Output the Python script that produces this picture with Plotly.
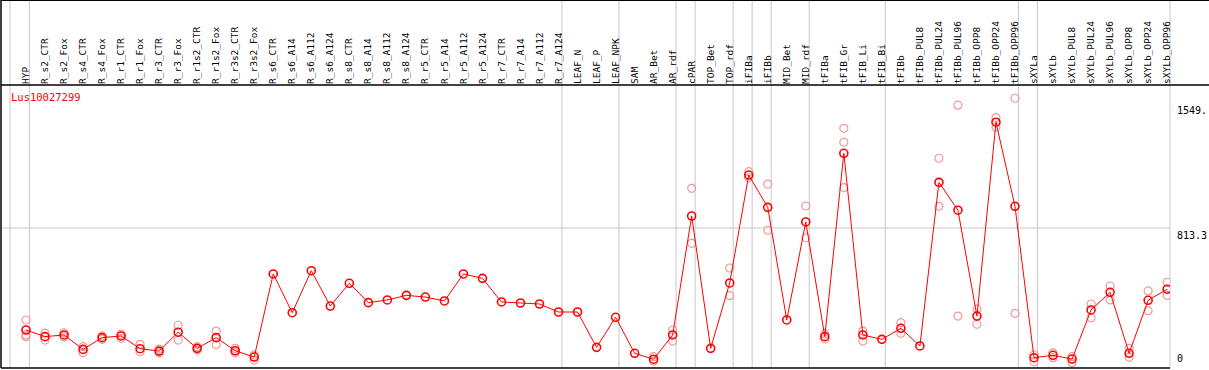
import plotly.graph_objects as go

categories = ["HYP", "R_s2_CTR", "R_s2_Fox", "R_s4_CTR", "R_s4_Fox", "R_r1_CTR", "R_r1_Fox",
              "R_r3_CTR", "R_r3_Fox", "R_r1s2_CTR", "R_r1s2_Fox", "R_r3s2_CTR", "R_r3s2_Fox",
              "R_s6_CTR", "R_s6_A14", "R_s6_A112", "R_s6_A124", "R_s8_CTR", "R_s8_A14",
              "R_s8_A112", "R_s8_A124", "R_r5_CTR", "R_r5_A14", "R_r5_A112", "R_r5_A124",
              "R_r7_CTR", "R_r7_A14", "R_r7_A112", "R_r7_A124", "LEAF_N", "LEAF_P", "LEAF_NPK",
              "SAM", "AR_Bet", "AR_rdf", "cPAR", "TOP_Bet", "TOP_rdf", "iFIBa", "iFIBb",
              "MID_Bet", "MID_rdf", "tFIBa", "tFIB_Gr", "tFIB_Li", "tFIB_Bi", "tFIBb",
              "tFIBb_PUL8", "tFIBb_PUL24", "tFIBb_PUL96", "tFIBb_OPP8", "tFIBb_OPP24",
              "tFIBb_OPP96", "sXYLa", "sXYLb", "sXYLb_PUL8", "sXYLb_PUL24", "sXYLb_PUL96",
              "sXYLb_OPP8", "sXYLb_OPP24", "sXYLb_OPP96"]

mean_values = [213, 174, 184, 99, 168, 178, 103, 89, 200, 105, 168, 91, 54,
               543, 315, 562, 354, 488, 374, 390, 417, 407, 384, 543, 517,
               378, 372, 366, 319, 319, 111, 288, 76, 41, 184, 884, 105, 490,
               1125, 935, 272, 849, 174, 1253, 184, 158, 223, 119, 1082, 918,
               295, 1436, 941, 50, 64, 42, 331, 435, 76, 388, 453]

rep_a = [272, 195, 197, 115, 178, 188, 129, 101, 241, 115, 207, 105, 66,
         None, None, None, None, None, None, None, None, None, None, None, None,
         None, None, None, None, None, None, None, None, 56, 213, 1047, None, 578,
         1145, 1072, None, 943, 190, 1400, 207, None, 256, None, 1224, 1536,
         337, 1463, 1577, 66, 79, 56, 366, 472, 105, 443, 494]
rep_b = [184, 154, 172, 79, 158, 164, 85, 79, 154, 95, 127, 79, 36,
         None, None, None, None, None, None, None, None, None, None, None, None,
         None, None, None, None, None, None, None, None, 31, 148, 723, None, 415,
         1109, 800, None, 756, 160, 1318, 148, None, 194, None, 941, 295,
         247, 1406, 311, 26, 50, 21, 285, 390, 52, 327, 417]
rep_c = [174] + [None] * 42 + [1051] + [None] * 17

# group boundaries (category index after which a separator is drawn)
separators_after = [0, 28, 31, 34, 35, 37, 38, 39, 41, 45, 52, 53]

axis_labels = ["1549.", "813.3", "0"]
axis_label_values = [1549, 813.3, 0]

title_text = "Lus10027299"

W, H = 1209, 370
ML, MR, MT, MB = 1, 39, 85, 2
PW = W - ML - MR
PH = H - MT - MB

xr = [-1.314, 60.15]
yr = [-10.6, 1655]


def px(xd):
    return (xd - xr[0]) / (xr[1] - xr[0])


MONO = "DejaVu Sans Mono"
RED = "#ff0000"
PINK = "#f09a9a"
GRID = "#c8c8c8"

idx = list(range(len(categories)))

fig = go.Figure()

for reps in (rep_a, rep_b, rep_c):
    fig.add_trace(go.Scatter(
        x=idx, y=reps, mode="markers",
        marker=dict(symbol="circle-open", size=8, color=PINK, line=dict(width=1.2, color=PINK)),
        hoverinfo="skip", showlegend=False))

fig.add_trace(go.Scatter(
    x=idx, y=mean_values, mode="lines+markers",
    line=dict(color=RED, width=1),
    marker=dict(symbol="circle-open", size=8, color=RED, line=dict(width=1.6, color=RED)),
    showlegend=False))

top_paper = 1 + MT / PH
shapes = []
# vertical separators spanning full height
sep_x = [-0.84] + [s + 0.18 for s in separators_after] + [xr[1]]
for sx in sep_x:
    shapes.append(dict(type="line", xref="paper", yref="paper",
                       x0=px(sx), x1=px(sx), y0=0, y1=top_paper,
                       line=dict(color=GRID, width=1), layer="below"))
# horizontal grid at middle value
shapes.append(dict(type="line", xref="paper", yref="y", x0=0, x1=1,
                   y0=axis_label_values[1], y1=axis_label_values[1],
                   line=dict(color=GRID, width=1), layer="below"))
# black frame lines
right_paper = (W - ML) / PW
shapes += [
    dict(type="line", xref="paper", yref="paper", x0=0, x1=right_paper, y0=top_paper, y1=top_paper,
         line=dict(color="black", width=2)),
    dict(type="line", xref="paper", yref="paper", x0=0, x1=right_paper, y0=1, y1=1,
         line=dict(color="black", width=1.5)),
    dict(type="line", xref="paper", yref="paper", x0=0, x1=0, y0=0, y1=top_paper,
         line=dict(color="black", width=1.5)),
    dict(type="line", xref="paper", yref="paper", x0=0, x1=1, y0=0, y1=0,
         line=dict(color="black", width=1.5)),
]

annotations = [dict(text=title_text, xref="paper", yref="paper",
                    x=(9 - ML) / PW, y=1 - 4 / PH, xanchor="left", yanchor="top",
                    showarrow=False, font=dict(family=MONO, size=10.5, color=RED))]
anchors = ["top", "top", "bottom"]
for lab, val, anc in zip(axis_labels, axis_label_values, anchors):
    annotations.append(dict(text=lab, xref="paper", yref="y", x=(1175 - ML) / PW, y=val,
                            xanchor="left", yanchor=anc, showarrow=False,
                            font=dict(family=MONO, size=10, color="black")))

fig.update_layout(
    width=W, height=H,
    margin=dict(l=ML, r=MR, t=MT, b=MB, pad=0),
    paper_bgcolor="white", plot_bgcolor="white",
    shapes=shapes, annotations=annotations,
    xaxis=dict(range=xr, side="top", tickmode="array", tickvals=idx, ticktext=categories,
               tickangle=-90, tickfont=dict(family=MONO, size=9.5, color="black"),
               showgrid=False, zeroline=False, showline=False, ticks="", automargin=False),
    yaxis=dict(range=yr, showgrid=False, zeroline=False, showline=False,
               showticklabels=False, ticks="", automargin=False),
)

fig.write_html("out.html", config={"displayModeBar": False},
               post_script="document.body.style.margin='0px';document.body.style.overflow='hidden';")
